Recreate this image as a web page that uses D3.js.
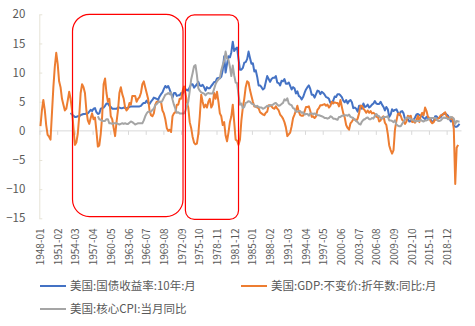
<!DOCTYPE html>
<html><head><meta charset="utf-8">
<script src="https://cdn.jsdelivr.net/npm/d3@7"></script>
<style>body{margin:0;background:#fff}svg{display:block}</style>
</head><body>
<svg id="c" width="475" height="326"></svg>
<script>
// ---------- data ----------
const seriesNames = ["美国:国债收益率:10年:月", "美国:GDP:不变价:折年数:同比:月", "美国:核心CPI:当月同比"];
const yTicks = [-15, -10, -5, 0, 5, 10, 15, 20];
const xTickLabels = ["1948-01","1951-02","1954-03","1957-04","1960-05","1963-06","1966-07","1969-08",
  "1972-09","1975-10","1978-11","1981-12","1985-01","1988-02","1991-03","1994-04","1997-05","2000-06",
  "2003-07","2006-08","2009-09","2012-10","2015-11","2018-12"];
const firstMonth = "1948-01";
const lastMonth = "2021-05";

// quarterly observations; first value's month given below, one value every 3 months
const yieldStart = "1953-06";
const yield10y = [3.1,2.8,2.6,
 2.4,2.4,2.5,2.5, 2.7,2.8,2.9,2.9, 3.0,3.0,3.3,3.6, 3.4,3.8,3.9,3.2,
 2.9,3.0,3.8,3.9, 4.0,4.3,4.7,4.7, 4.3,4.1,3.8,3.8, 3.8,3.8,4.0,4.0,
 3.9,3.9,4.0,3.9, 3.9,4.0,4.1,4.2, 4.2,4.2,4.2,4.2, 4.2,4.2,4.3,4.6,
 4.8,4.8,5.2,4.8, 4.6,5.0,5.3,5.7, 5.6,5.5,5.3,5.9, 6.3,6.6,7.2,7.7,
 7.4,7.7,7.1,6.4, 5.7,6.5,6.5,6.0, 6.1,6.1,6.5,6.4, 6.8,6.9,7.1,6.9,
 7.5,8.0,8.0,7.4, 7.7,8.0,8.4,7.8, 7.7,7.9,7.5,6.9, 7.5,7.3,7.3,7.7,
 8.0,8.4,8.4,9.0, 9.1,9.0,9.3,10.4, 12.8,10.0,11.5,12.8, 12.6,13.5,15.3,13.7,
 14.1,14.3,12.3,10.5, 10.5,10.8,11.7,11.8, 12.3,13.6,12.5,11.5, 11.6,10.2,10.4,9.3,
 7.8,7.8,7.5,7.1, 7.3,8.4,9.4,8.9, 8.4,8.9,9.1,9.1, 9.4,8.3,8.2,7.8,
 8.6,8.5,8.9,8.1, 8.1,8.3,7.7,7.1, 7.5,7.3,6.4,6.8, 6.0,5.8,5.4,5.8,
 6.5,7.1,7.5,7.8, 7.2,6.2,6.2,5.7, 6.3,6.9,6.8,6.3, 6.7,6.5,6.2,5.8,
 5.7,5.5,4.8,4.7, 5.2,5.9,5.8,6.3, 6.3,6.1,5.8,5.2, 4.9,5.3,4.7,5.1,
 5.3,4.9,3.9,4.0, 3.8,3.3,4.3,4.3, 3.8,4.7,4.1,4.2, 4.5,4.0,4.2,4.5,
 4.7,5.1,4.7,4.6, 4.6,5.0,4.5,4.1, 3.5,4.1,3.7,2.4, 2.8,3.7,3.4,3.6,
 3.7,3.2,2.7,3.3, 3.4,3.0,2.0,2.0, 2.0,1.6,1.7,1.7, 1.9,2.3,2.8,2.9,
 2.7,2.6,2.5,2.2, 2.0,2.4,2.2,2.2, 1.9,1.6,1.6,2.5, 2.5,2.2,2.2,2.4,
 2.8,2.9,3.0,2.8, 2.6,2.1,1.6,1.9, 0.9,0.7,0.7,0.9, 1.2];

const gdpStart = "1948-03";
const gdpYoY = [
 0.8,3.5,5.3,3.6, 1.0,-0.7,-1.0,-1.5, 3.0,7.5,11.0,13.4, 11.5,8.5,7.5,5.5,
 4.5,3.5,3.8,5.2, 6.7,5.5,3.5,0.5, -2.4,-2.0,-0.5,2.5, 6.5,8.0,7.5,6.5,
 3.5,1.8,1.2,2.2, 3.0,2.0,2.3,0.0, -2.7,-2.5,-0.5,2.5, 8.0,9.0,6.5,5.0,
 5.5,2.5,2.0,0.5, -0.9,1.5,3.5,6.5, 7.5,6.3,5.5,4.0, 3.5,3.8,4.8,4.5,
 6.0,6.0,6.0,5.0, 5.5,5.8,6.5,8.0, 8.5,7.5,6.5,5.5, 3.5,2.7,2.5,3.0,
 4.5,5.0,5.0,5.0, 5.0,3.5,3.0,2.0, 0.5,0.0,0.2,-0.2, 2.5,3.0,3.2,4.5,
 4.5,5.5,5.5,6.8, 7.6,6.5,5.0,4.0, 1.5,0.5,-1.0,-2.0, -2.3,-2.2,-0.5,2.5,
 6.2,5.0,4.0,4.5, 4.0,5.0,5.5,4.0, 4.5,6.5,5.5,6.7, 5.0,3.0,2.5,1.0,
 1.5,-0.8,-1.8,-0.3, 1.5,2.5,4.5,1.5, -1.5,-1.7,-2.4,-1.5, 1.8,4.0,5.5,7.5,
 8.5,8.3,7.0,6.0, 5.0,4.2,4.2,4.0, 3.9,3.2,3.0,2.8, 2.7,3.1,3.3,4.4,
 4.4,4.2,3.9,3.8, 4.2,3.8,3.5,2.8, 2.5,2.1,1.5,0.6, -0.9,-0.6,-0.3,0.8,
 2.2,2.8,3.5,4.3, 3.3,2.7,2.6,2.6, 3.3,4.1,4.1,4.2, 3.4,2.4,2.5,2.2,
 2.5,3.6,3.9,4.4, 4.4,4.5,4.6,4.3, 4.5,4.0,4.3,5.0, 4.7,4.9,4.8,4.8,
 4.2,5.3,4.1,3.0, 2.3,1.0,0.5,0.2, 1.3,1.6,2.0,2.0, 1.7,2.1,3.0,4.3,
 4.3,3.8,3.5,3.1, 3.5,3.1,3.4,3.0, 3.1,2.9,2.4,2.5, 1.6,1.8,2.3,2.5,
 1.4,1.0,-0.5,-2.5, -3.3,-3.9,-3.3,0.2, 1.7,2.9,3.0,2.6, 1.9,1.7,1.2,1.6,
 2.6,2.4,2.6,1.5, 1.6,1.4,1.9,2.6, 1.5,2.6,3.1,2.7, 4.0,3.4,2.4,2.2,
 1.6,1.3,1.5,2.0, 1.9,2.1,2.3,2.7, 2.7,3.0,3.2,2.5, 2.3,2.0,2.1,2.3,
 0.3,-9.1,-2.9,-2.4];

const cpiStart = "1958-03";
const coreCPI = [
 2.5,2.0,1.9,1.7, 1.7,1.7,2.0,2.0, 1.3,1.3,1.2,1.3, 1.3,1.3,1.2,1.1,
 1.2,1.3,1.2,1.3, 1.2,1.2,1.4,1.6, 1.5,1.3,1.1,1.2, 1.3,1.3,1.3,1.3,
 1.8,2.5,3.0,3.3, 3.3,3.3,3.6,3.8, 4.4,4.6,4.9,5.0, 4.9,5.2,5.7,6.2,
 6.3,6.5,6.3,6.6, 5.4,4.5,3.8,3.1, 3.2,3.0,3.0,3.0, 3.0,3.4,4.3,5.0,
 6.8,8.8,9.9,11.1, 11.3,9.6,7.3,6.9, 6.6,6.5,6.4,6.1, 6.4,6.5,6.4,6.4,
 6.4,7.2,8.0,8.5, 8.8,9.1,10.4,11.3, 12.0,13.6,12.4,12.2, 11.0,9.4,11.2,9.5,
 8.3,8.2,6.2,4.5, 4.7,3.9,4.1,4.8, 4.9,5.1,5.0,4.7, 4.6,4.4,4.1,4.3,
 4.1,4.0,4.0,3.8, 3.9,4.1,4.3,4.2, 4.4,4.4,4.5,4.7, 4.8,4.5,4.3,4.4,
 4.6,4.8,5.4,5.2, 5.6,4.7,4.5,4.4, 3.9,3.8,3.3,3.3, 3.4,3.4,3.1,3.2,
 2.8,2.9,2.9,2.6, 3.0,3.0,2.9,3.0, 2.8,2.7,2.7,2.6, 2.5,2.4,2.2,2.2,
 2.1,2.2,2.5,2.4, 2.1,2.1,2.0,1.9, 2.4,2.4,2.6,2.6, 2.7,2.7,2.6,2.8,
 2.4,2.3,2.2,1.9, 1.7,1.5,1.2,1.1, 1.6,1.9,2.0,2.2, 2.3,2.0,2.0,2.2,
 2.1,2.6,2.9,2.6, 2.5,2.2,2.1,2.4, 2.4,2.4,2.5,1.8, 1.8,1.7,1.5,1.8,
 1.1,0.9,0.8,0.8, 1.2,1.6,2.0,2.2, 2.3,2.2,2.0,1.9, 1.9,1.6,1.7,1.7,
 1.7,1.9,1.7,1.6, 1.8,1.8,1.9,2.1, 2.2,2.2,2.2,2.2, 2.0,1.7,1.7,1.8,
 2.1,2.3,2.2,2.2, 2.0,2.1,2.4,2.3, 2.1,1.2,1.7,1.6, 1.6];

// highlighted periods (red rounded boxes)
const boxFrom = ["1953-10", "1973-06"];
const boxTo   = ["1973-01", "1982-09"];
const boxTop  = [20, 19.9];
const boxBottom = [-14.7, -15.2];

// ---------- drawing ----------
const svg = d3.select("#c");
const monthIdx = s => { const [y, m] = s.split("-").map(Number); return (y - 1948) * 12 + (m - 1); };
const x = d3.scaleLinear().domain([monthIdx(firstMonth), monthIdx(lastMonth)]).range([39.5, 460.5]);
const y = d3.scaleLinear().domain([-15, 20]).range([218.3, 14.3]);
const font = "'Noto Sans CJK SC', 'Noto Sans', sans-serif";
const txt = "#595959";

// y axis
const yAxis = d3.axisLeft(y).tickValues(yTicks).tickSize(0).tickPadding(0);
const gy = svg.append("g").attr("transform", "translate(39.3,0)").call(yAxis);
gy.select(".domain").attr("stroke", "#e6e3d6").attr("stroke-width", 1);
gy.selectAll("text").attr("x", -14).attr("fill", txt).style("font-family", font).style("font-size", "11.5px");
gy.selectAll(".tick").append("line").attr("x1", 0).attr("x2", 3).attr("stroke", "#e6e3d6");

// x axis at zero
const xAxis = d3.axisBottom(x).tickValues(xTickLabels.map(monthIdx)).tickSize(4).tickFormat((d, i) => xTickLabels[i]);
const gx = svg.append("g").attr("transform", `translate(0,${y(0)})`).call(xAxis);
gx.select(".domain").attr("stroke", "#d9d9d9").attr("d", `M${x.range()[0]},0H${x.range()[1] + 1}`);
gx.selectAll(".tick line").attr("stroke", "#d9d9d9");
gx.selectAll(".tick text")
  .attr("fill", txt).style("font-family", font).style("font-size", "10px")
  .attr("text-anchor", "end")
  .attr("transform", `translate(0,${228.5 - y(0)}) rotate(-90)`)
  .attr("x", 0).attr("y", 0).attr("dy", "0.4em");

// series
const toPoints = (start, vals) => vals.map((v, i) => ({ m: monthIdx(start) + 3 * i, v }));
const line = d3.line().x(d => x(d.m)).y(d => y(d.v));
const series = [
  { pts: toPoints(yieldStart, yield10y), color: "#4472C4" },
  { pts: toPoints(gdpStart, gdpYoY), color: "#ED7D31" },
  { pts: toPoints(cpiStart, coreCPI), color: "#A5A5A5" }
];
svg.append("g").selectAll("path").data(series).join("path")
  .attr("d", d => line(d.pts)).attr("fill", "none")
  .attr("stroke", d => d.color).attr("stroke-width", 2).attr("stroke-linejoin", "round");

// red boxes
svg.append("g").selectAll("rect").data(boxFrom).join("rect")
  .attr("x", (d, i) => x(monthIdx(d)))
  .attr("y", (d, i) => y(boxTop[i]))
  .attr("width", (d, i) => x(monthIdx(boxTo[i])) - x(monthIdx(d)))
  .attr("height", (d, i) => y(boxBottom[i]) - y(boxTop[i]))
  .attr("rx", (d, i) => i === 0 ? 17 : 9)
  .attr("fill", "none").attr("stroke", "#ff0000").attr("stroke-width", 1.2);

// legend
const legendPos = [[40, 286], [241, 286], [40, 309]];
const lg = svg.append("g").selectAll("g").data(seriesNames).join("g")
  .attr("transform", (d, i) => `translate(${legendPos[i][0]},${legendPos[i][1]})`);
lg.append("line").attr("x1", 0).attr("x2", 26)
  .attr("stroke", (d, i) => series[i].color).attr("stroke-width", 2);
lg.append("text").attr("x", 30).attr("y", 0).attr("dy", "0.35em")
  .attr("fill", txt).style("font-family", font).style("font-size", "11.5px").text(d => d);
</script>
</body></html>
